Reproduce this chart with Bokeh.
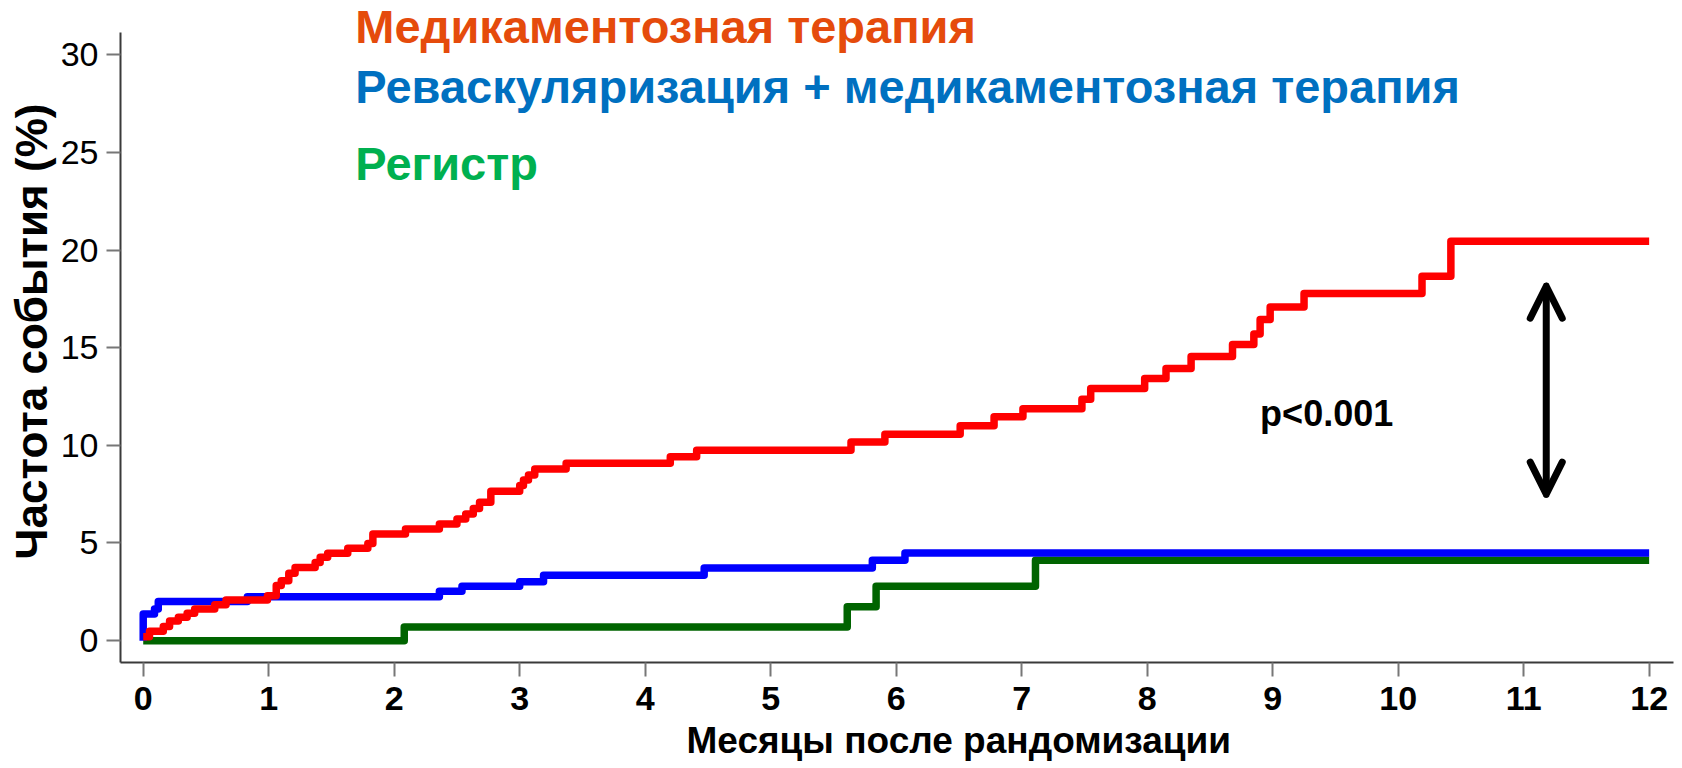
import math
from bokeh.plotting import figure
from bokeh.models import Range1d, FixedTicker, Label, Arrow, OpenHead, Title
from bokeh.embed import file_html
from bokeh.resources import INLINE

# ---- data (months after randomisation, cumulative event rate %) ----
med_t = [0, 0.05, 0.16, 0.21, 0.28, 0.35, 0.41, 0.57, 0.66, 0.99, 1.06, 1.10, 1.16, 1.21,
         1.37, 1.41, 1.47, 1.63, 1.79, 1.83, 2.09, 2.36, 2.50, 2.57, 2.63, 2.68, 2.77,
         3.00, 3.03, 3.07, 3.12, 3.37, 4.20, 4.41, 5.64, 5.91, 6.51, 6.78, 7.01, 7.48,
         7.55, 7.98, 8.15, 8.35, 8.68, 8.85, 8.90, 8.98, 9.25, 10.19, 10.42, 12.0]
med_v = [0.2, 0.48, 0.72, 1.0, 1.2, 1.4, 1.62, 1.84, 2.08, 2.3, 2.82, 3.07, 3.45, 3.75,
         4.0, 4.27, 4.47, 4.73, 4.98, 5.46, 5.72, 5.97, 6.23, 6.48, 6.77, 7.08, 7.65,
         7.94, 8.23, 8.48, 8.79, 9.08, 9.42, 9.75, 10.17, 10.57, 11.01, 11.46, 11.88, 12.36,
         12.91, 13.42, 13.94, 14.55, 15.16, 15.7, 16.44, 17.09, 17.77, 18.66, 20.45, 20.45]

rev_t = [0, 0, 0.09, 0.12, 0.83, 2.36, 2.54, 3.00, 3.19, 4.47, 5.81, 6.07, 12.0]
rev_v = [0, 1.37, 1.62, 2.01, 2.25, 2.53, 2.78, 3.02, 3.35, 3.72, 4.12, 4.49, 4.49]

reg_t = [0, 2.08, 5.61, 5.84, 7.11, 12.0]
reg_v = [0, 0.70, 1.73, 2.79, 4.12, 4.12]

x_ticks = list(range(0, 13))
y_ticks = [0, 5, 10, 15, 20, 25, 30]

legend_labels = ["Медикаментозная терапия",
                 "Реваскуляризация + медикаментозная терапия",
                 "Регистр"]
x_title = "Месяцы после рандомизации"
y_title = "Частота события (%)"
p_text = "p<0.001"

FONT = "Liberation Sans"

p = figure(width=1682, height=768,
           x_range=Range1d(-0.181, 12.194), y_range=Range1d(-1.12, 32.78),
           output_backend="svg", toolbar_location=None,
           min_border_left=120, min_border_right=9,
           min_border_top=0, min_border_bottom=106)
p.outline_line_color = None
p.grid.visible = False
p.background_fill_color = "white"
p.border_fill_color = "white"

for ax in (p.xaxis[0], p.yaxis[0]):
    ax.axis_line_color = "#3a3a3a"
    ax.axis_line_width = 2
    ax.major_tick_line_color = "#777777"
    ax.major_tick_line_width = 2
    ax.major_tick_in = 0
    ax.major_tick_out = 14
    ax.minor_tick_line_color = None
    ax.major_label_text_font = FONT
    ax.major_label_text_color = "black"

p.yaxis.bounds = (-1.12, 31.15)
p.xaxis.ticker = FixedTicker(ticks=x_ticks)
p.yaxis.ticker = FixedTicker(ticks=y_ticks)
p.xaxis.major_label_text_font_size = "34px"
p.xaxis.major_label_text_font_style = "bold"
p.xaxis.major_label_standoff = 10
p.yaxis.major_label_text_font_size = "34px"
p.yaxis.major_label_standoff = 8

# axis titles as side titles
p.add_layout(Title(text=x_title, align="left", offset=566, standoff=11,
                   text_font=FONT, text_font_style="bold", text_font_size="37px",
                   text_color="black"), "below")
p.add_layout(Title(text=y_title, align="center", standoff=4,
                   text_font=FONT, text_font_style="bold", text_font_size="44px",
                   text_color="black"), "left")

# curves
p.step(reg_t, reg_v, mode="after", line_color="#006400", line_width=7.5, line_join="round")
p.step(rev_t, rev_v, mode="after", line_color="#0000FF", line_width=7.5, line_join="round")
p.step(med_t, med_v, mode="after", line_color="#FF0000", line_width=7.5, line_join="round")

# legend-like coloured titles
title_colors = ["#E54B0C", "#0070C0", "#00B050"]
title_y = [31.45, 28.4, 24.45]
for txt, col, yy in zip(legend_labels, title_colors, title_y):
    p.add_layout(Label(x=1.69, y=yy, text=txt, text_color=col, text_font=FONT,
                       text_font_style="bold", text_font_size="47px",
                       text_align="left", text_baseline="alphabetic"))

# p-value and arrow
p.add_layout(Label(x=8.9, y=11.65, text=p_text, text_font=FONT, text_font_style="bold",
                   text_font_size="36px", text_align="left", text_baseline="alphabetic",
                   text_color="black"))
p.add_layout(Arrow(x_start=11.18, y_start=7.5, x_end=11.18, y_end=18.15,
                   line_width=7, line_color="black", line_cap="round",
                   start=OpenHead(size=32, line_width=7, line_color="black", line_cap="round", line_join="round"),
                   end=OpenHead(size=32, line_width=7, line_color="black", line_cap="round", line_join="round")))

open("out.html", "w").write(file_html(p, INLINE))
